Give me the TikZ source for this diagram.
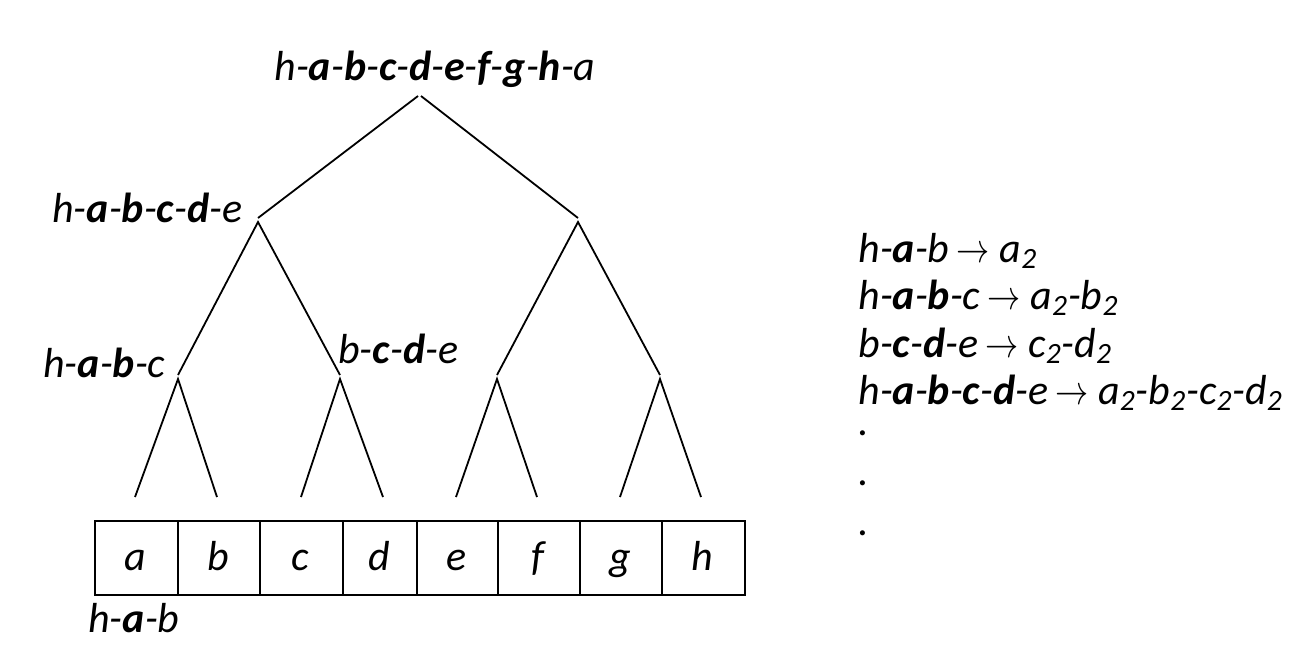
\documentclass[tikz,border=0pt]{standalone}
\usepackage{fontspec}
\setmainfont{Carlito}
\begin{document}
\begin{tikzpicture}[x=0.5pt,y=-0.5pt,
  every node/.style={font=\fontsize{21}{25}\selectfont\itshape, inner sep=0pt},
  edge/.style={line width=0.9pt},
  cell/.style={draw, line width=0.9pt, minimum height=37pt, anchor=north west},
  lbl/.style={anchor=base west}]
\useasboundingbox (0,0) rectangle (1316,660);
\newcommand{\B}[1]{\textbf{#1}}
\newcommand{\arr}{\hspace{3.5pt}\scalebox{0.8}[1]{$\rightarrow$}\hspace{5pt}}
% tree coordinates
\coordinate (rl) at (418,96);
\coordinate (rr) at (421,96);
\coordinate (le) at (258,218); \coordinate (la) at (258,222);
\coordinate (re) at (578,218); \coordinate (ra) at (578,222);
\coordinate (lle) at (178,375); \coordinate (lla) at (178,379);
\coordinate (lre) at (340,375); \coordinate (lra) at (340,379);
\coordinate (rle) at (497,375); \coordinate (rla) at (497,379);
\coordinate (rre) at (660,375); \coordinate (rra) at (660,379);
\coordinate (p1) at (135,497); \coordinate (p2) at (217,497);
\coordinate (p3) at (301,497); \coordinate (p4) at (383,497);
\coordinate (p5) at (456,497); \coordinate (p6) at (537,497);
\coordinate (p7) at (620,497); \coordinate (p8) at (701,497);
\draw[edge] (le) -- (rl); \draw[edge] (rr) -- (re);
\draw[edge] (lle) -- (la) -- (lre);
\draw[edge] (rle) -- (ra) -- (rre);
\draw[edge] (p1) -- (lla) -- (p2);
\draw[edge] (p3) -- (lra) -- (p4);
\draw[edge] (p5) -- (rla) -- (p6);
\draw[edge] (p7) -- (rra) -- (p8);
% cells
\node[cell, minimum width=41.5pt] (ca) at (94,520) {};
\node[cell, minimum width=41pt] (cb) at (177,520) {};
\node[cell, minimum width=41.5pt] (cc) at (259,520) {};
\node[cell, minimum width=37pt] (cd) at (342,520) {};
\node[cell, minimum width=40.5pt] (ce) at (416,520) {};
\node[cell, minimum width=41pt] (cf) at (497,520) {};
\node[cell, minimum width=41pt] (cg) at (579,520) {};
\node[cell, minimum width=41.5pt] (ch) at (661,520) {};
\node[anchor=base] (ta) at (135.5,570) {a};
\node[anchor=base] (tb) at (218,570) {b};
\node[anchor=base] (tc) at (300.5,570) {c};
\node[anchor=base] (td) at (379,570) {d};
\node[anchor=base] (te) at (456.5,570) {e};
\node[anchor=base] (tf) at (538,570) {f};
\node[anchor=base] (tg) at (620,570) {g};
\node[anchor=base] (th) at (702.5,570) {h};
% tree labels
\node[anchor=base] (root) at (435,80) {h-\B{a}-\B{b}-\B{c}-\B{d}-\B{e}-\B{f}-\B{g}-\B{h}-a};
\node[lbl] (l2) at (52,222) {h-\B{a}-\B{b}-\B{c}-\B{d}-e};
\node[lbl] (l3) at (43,377) {h-\B{a}-\B{b}-c};
\node[lbl] (l4) at (338,363) {b-\B{c}-\B{d}-e};
\node[lbl] (l5) at (88,632) {h-\B{a}-b};
% right list
\node[lbl] (m1) at (858,262) {h-\B{a}-b\arr a\textsubscript{2}};
\node[lbl] (m2) at (858,309) {h-\B{a}-\B{b}-c\arr a\textsubscript{2}-b\textsubscript{2}};
\node[lbl] (m3) at (858,357) {b-\B{c}-\B{d}-e\arr c\textsubscript{2}-d\textsubscript{2}};
\node[lbl] (m4) at (858,404) {h-\B{a}-\B{b}-\B{c}-\B{d}-e\arr a\textsubscript{2}-b\textsubscript{2}-c\textsubscript{2}-d\textsubscript{2}};
\node[lbl] (d1) at (858,435) {.};
\node[lbl] (d2) at (858,485) {.};
\node[lbl] (d3) at (858,535) {.};
\end{tikzpicture}
\end{document}
